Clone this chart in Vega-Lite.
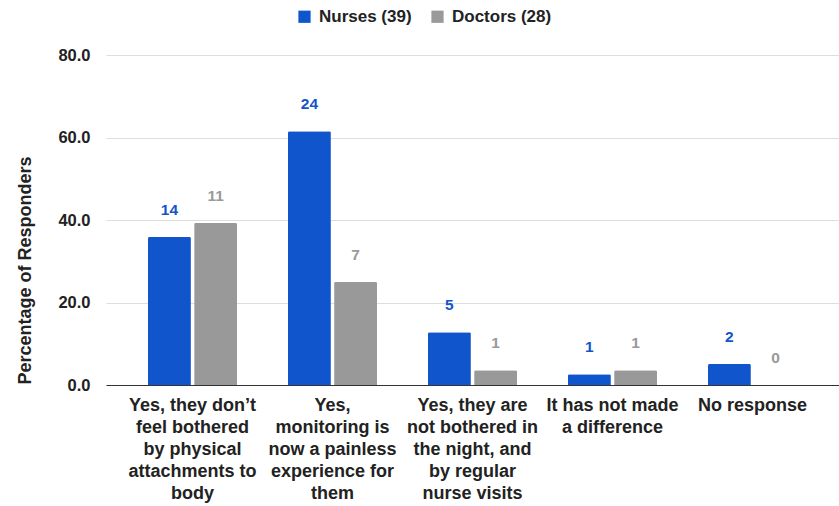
{
  "$schema": "https://vega.github.io/schema/vega-lite/v6.json",
  "width": 740,
  "height": 330,
  "autosize": "none",
  "padding": {"left": 98, "top": 55, "right": 1, "bottom": 121},
  "background": "white",
  "config": {
    "font": "Liberation Sans",
    "view": {"stroke": null}
  },
  "data": {
    "values": [
      {"answer": "Yes, they don’t|feel bothered|by physical|attachments to|body", "group": "Nurses (39)", "pct": 35.9, "count": 14},
      {"answer": "Yes, they don’t|feel bothered|by physical|attachments to|body", "group": "Doctors (28)", "pct": 39.3, "count": 11},
      {"answer": "Yes,|monitoring is|now a painless|experience for|them", "group": "Nurses (39)", "pct": 61.5, "count": 24},
      {"answer": "Yes,|monitoring is|now a painless|experience for|them", "group": "Doctors (28)", "pct": 25.0, "count": 7},
      {"answer": "Yes, they are|not bothered in|the night, and|by regular|nurse visits", "group": "Nurses (39)", "pct": 12.8, "count": 5},
      {"answer": "Yes, they are|not bothered in|the night, and|by regular|nurse visits", "group": "Doctors (28)", "pct": 3.6, "count": 1},
      {"answer": "It has not made|a difference", "group": "Nurses (39)", "pct": 2.6, "count": 1},
      {"answer": "It has not made|a difference", "group": "Doctors (28)", "pct": 3.6, "count": 1},
      {"answer": "No response", "group": "Nurses (39)", "pct": 5.1, "count": 2},
      {"answer": "No response", "group": "Doctors (28)", "pct": 0, "count": 0}
    ]
  },
  "encoding": {
    "x": {
      "field": "answer",
      "type": "nominal",
      "sort": null,
      "scale": {"paddingInner": 0.364, "paddingOuter": 0.3, "range": [8, 741]},
      "axis": {
        "title": null,
        "labelAngle": 0,
        "labelExpr": "split(datum.label, '|')",
        "labelFont": "Liberation Sans",
        "labelFontWeight": "bold",
        "labelFontSize": 18,
        "labelColor": "#222222",
        "labelLineHeight": 22,
        "labelPadding": 11,
        "labelLimit": 220,
        "ticks": false,
        "domainColor": "#333333",
        "domainWidth": 1,
        "grid": false
      }
    },
    "xOffset": {
      "field": "group",
      "type": "nominal",
      "sort": ["Nurses (39)", "Doctors (28)"],
      "scale": {"paddingInner": 0.07}
    },
    "y": {
      "field": "pct",
      "type": "quantitative",
      "scale": {"domain": [0, 80]},
      "axis": {
        "title": "Percentage of Responders",
        "titleFont": "Liberation Sans",
        "titleFontWeight": "bold",
        "titleFontSize": 18,
        "titleColor": "#222222",
        "titleX": -73,
        "titleY": 215,
        "titleAlign": "center",
        "titleBaseline": "middle",
        "titleAngle": -90,
        "values": [0, 20, 40, 60, 80],
        "format": ".1f",
        "labelFont": "Liberation Sans",
        "labelFontWeight": "bold",
        "labelFontSize": 16.5,
        "labelColor": "#222222",
        "labelPadding": 8,
        "ticks": false,
        "domain": false,
        "gridColor": "#dddddd",
        "gridWidth": 1
      }
    },
    "color": {
      "field": "group",
      "type": "nominal",
      "sort": ["Nurses (39)", "Doctors (28)"],
      "scale": {"domain": ["Nurses (39)", "Doctors (28)"], "range": ["#1155cc", "#999999"]},
      "legend": {
        "title": null,
        "orient": "none",
        "direction": "horizontal",
        "legendX": 198,
        "legendY": -47,
        "symbolType": "square",
        "symbolSize": 150,
        "symbolStrokeWidth": 0,
        "labelFont": "Liberation Sans",
        "labelFontWeight": "bold",
        "labelFontSize": 17,
        "labelColor": "#222222",
        "columnPadding": 17,
        "labelOffset": 6
      }
    }
  },
  "layer": [
    {"mark": {"type": "bar", "cornerRadiusTopLeft": 1.5, "cornerRadiusTopRight": 1.5}},
    {
      "mark": {"type": "text", "fontWeight": "bold", "fontSize": 15.5, "baseline": "middle", "dy": -27, "font": "Liberation Sans"},
      "encoding": {"text": {"field": "count", "type": "quantitative"}}
    }
  ]
}
